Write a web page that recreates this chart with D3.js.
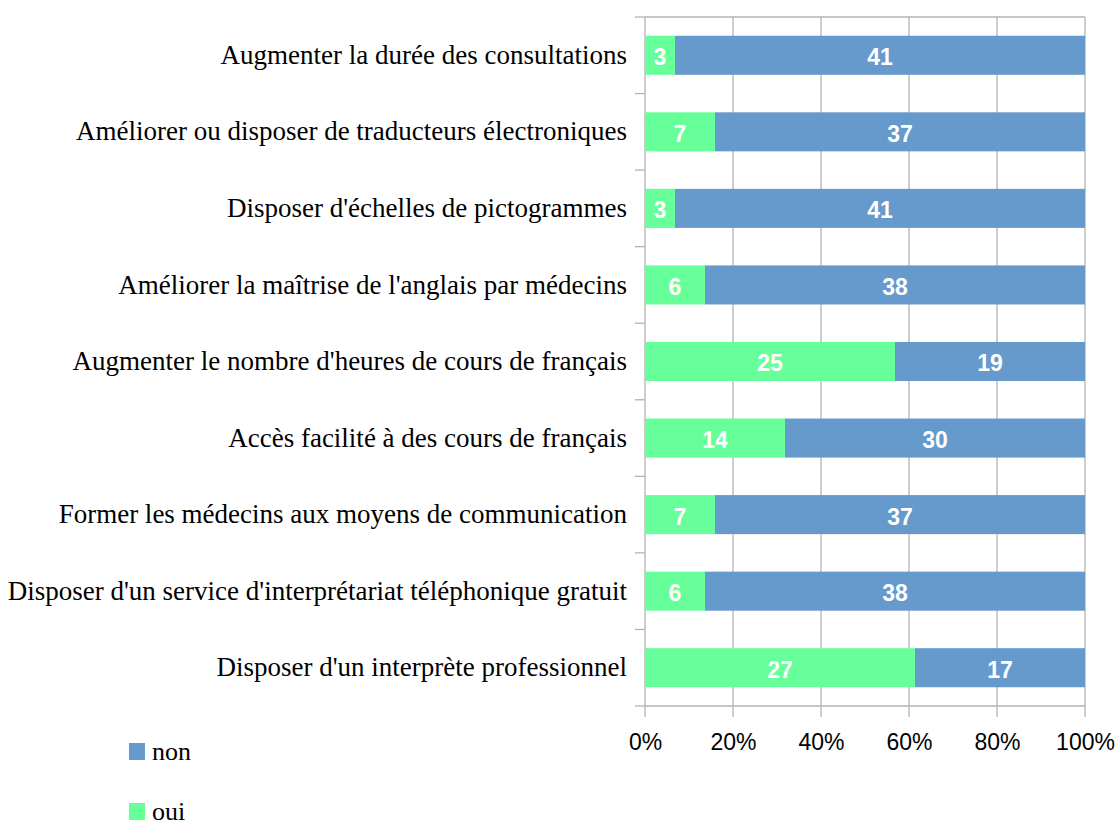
<!DOCTYPE html>
<html>
<head>
<meta charset="utf-8">
<script src="https://cdn.jsdelivr.net/npm/d3@7"></script>
<style>
  body { margin: 0; background: #fff; }
  .cat text { font-family: "Liberation Serif", "Times New Roman", serif; font-size: 27px; fill: #000; }
  .pct text { font-family: "Liberation Sans", Arial, sans-serif; font-size: 23px; fill: #000; }
  .val { font-family: "Liberation Sans", Arial, sans-serif; font-size: 23px; font-weight: bold; fill: #fff; }
  .leg { font-family: "Liberation Serif", "Times New Roman", serif; font-size: 26px; fill: #000; }
</style>
</head>
<body>
<div id="chart"></div>
<script>
var width = 1117;
var height = 821;

var categories = [
  "Augmenter la durée des consultations",
  "Améliorer ou disposer de traducteurs électroniques",
  "Disposer d'échelles de pictogrammes",
  "Améliorer la maîtrise de l'anglais par médecins",
  "Augmenter le nombre d'heures de cours de français",
  "Accès facilité à des cours de français",
  "Former les médecins aux moyens de communication",
  "Disposer d'un service d'interprétariat téléphonique gratuit",
  "Disposer d'un interprète professionnel"
];
var oui = [3, 7, 3, 6, 25, 14, 7, 6, 27];
var non = [41, 37, 41, 38, 19, 30, 37, 38, 17];
var seriesNames = ["oui", "non"];
var colors = { oui: "#66ff99", non: "#6699cc" };
var pctTicks = [0, 0.2, 0.4, 0.6, 0.8, 1];

var plotLeft = 645, plotRight = 1085, plotTop = 17, plotBottom = 706;

var rows = categories.map(function(c, i) {
  var total = oui[i] + non[i];
  return { cat: c, oui: oui[i] / total, non: non[i] / total, ouiN: oui[i], nonN: non[i] };
});

var stack = d3.stack().keys(seriesNames);
var layers = stack(rows);

var x = d3.scaleLinear().domain([0, 1]).range([plotLeft, plotRight]);
var y = d3.scaleBand().domain(categories).range([plotTop, plotBottom]).paddingInner(0.49).paddingOuter(0.245);

var svg = d3.select("#chart").append("svg")
  .attr("width", width)
  .attr("height", height);

// gridlines
svg.append("g")
  .selectAll("line")
  .data(pctTicks)
  .enter()
  .append("line")
  .attr("x1", function(d) { return x(d); })
  .attr("x2", function(d) { return x(d); })
  .attr("y1", plotTop)
  .attr("y2", plotBottom + 11)
  .attr("stroke", "#b3b3b3")
  .attr("stroke-width", 1.3);

// category tick marks (between bands)
var bandEdges = d3.range(categories.length + 1).map(function(i) {
  return plotTop + i * (plotBottom - plotTop) / categories.length;
});
svg.append("g")
  .selectAll("line")
  .data(bandEdges)
  .enter()
  .append("line")
  .attr("x1", plotLeft - 10)
  .attr("x2", plotLeft)
  .attr("y1", function(d) { return d; })
  .attr("y2", function(d) { return d; })
  .attr("stroke", "#b3b3b3")
  .attr("stroke-width", 1.3);

// frame top + bottom
svg.append("line").attr("x1", plotLeft).attr("x2", plotRight).attr("y1", plotTop).attr("y2", plotTop)
  .attr("stroke", "#b3b3b3").attr("stroke-width", 1.3);
svg.append("line").attr("x1", plotLeft).attr("x2", plotRight).attr("y1", plotBottom).attr("y2", plotBottom)
  .attr("stroke", "#b3b3b3").attr("stroke-width", 1.3);

// bars
var layerG = svg.selectAll(".layer")
  .data(layers)
  .enter()
  .append("g")
  .attr("fill", function(d) { return colors[d.key]; });

layerG.selectAll("rect")
  .data(function(d) { return d; })
  .enter()
  .append("rect")
  .attr("x", function(d) { return x(d[0]); })
  .attr("width", function(d) { return x(d[1]) - x(d[0]); })
  .attr("y", function(d) { return y(d.data.cat); })
  .attr("height", y.bandwidth());

layerG.each(function(layer) {
  d3.select(this).selectAll("text")
    .data(layer)
    .enter()
    .append("text")
    .attr("class", "val")
    .attr("x", function(d) { return (x(d[0]) + x(d[1])) / 2; })
    .attr("y", function(d) { return y(d.data.cat) + y.bandwidth() / 2; })
    .attr("dy", "0.43em")
    .attr("text-anchor", "middle")
    .text(function(d) { return layer.key == "oui" ? d.data.ouiN : d.data.nonN; });
});

// category labels
var yAxis = d3.axisLeft(y).tickSize(0).tickPadding(18);
svg.append("g")
  .attr("class", "cat")
  .attr("transform", "translate(" + plotLeft + ",0)")
  .call(yAxis)
  .call(function(g) { g.select(".domain").remove(); })
  .selectAll("text").attr("dy", "0.32em");

// percent axis
var xAxis = d3.axisBottom(x).tickValues(pctTicks).tickFormat(d3.format(".0%")).tickSize(0).tickPadding(28);
svg.append("g")
  .attr("class", "pct")
  .attr("transform", "translate(0," + plotBottom + ")")
  .call(xAxis)
  .call(function(g) { g.select(".domain").remove(); });

// legend
var legendItems = ["non", "oui"];
var legend = svg.selectAll(".legitem")
  .data(legendItems)
  .enter()
  .append("g")
  .attr("transform", function(d, i) { return "translate(129," + (743 + i * 60) + ")"; });
legend.append("rect")
  .attr("width", 16)
  .attr("height", 17)
  .attr("fill", function(d) { return colors[d]; });
legend.append("text")
  .attr("class", "leg")
  .attr("x", 23)
  .attr("y", 17)
  .text(function(d) { return d; });
</script>
</body>
</html>
